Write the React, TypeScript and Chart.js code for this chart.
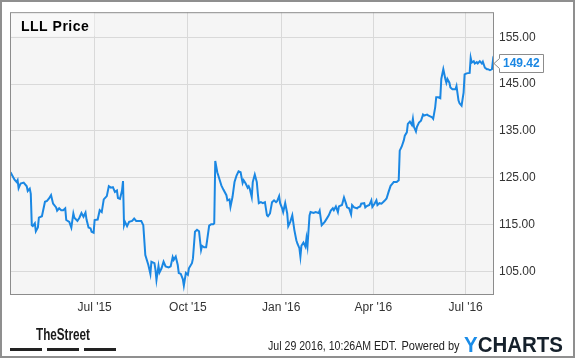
import React, { useEffect, useRef } from "react";
import { Chart, registerables } from "chart.js";

Chart.register(...registerables);

const FONT = '"Liberation Sans", Arial, Helvetica, sans-serif';

const chartTitle = "LLL Price";
// days since 2015-07-01
const days = [
  -83, -79, -77, -76, -75, -73, -70, -67, -66, -64, -63, -62, -61, -59, -58, -56, -55, -52, -49, -47,
  -45, -43, -41, -38, -37, -35, -33, -31, -29, -28, -25, -23, -21, -20, -17, -15, -13, -11, -9, -8,
  -6, -4, -3, -1, 0, 3, 5, 7, 9, 12, 14, 16, 18, 20, 22, 23, 25, 27, 28, 29,
  30, 32, 34, 37, 39, 41, 43, 46, 48, 50, 53, 55, 56, 59, 60, 61, 63, 64, 66, 68,
  70, 73, 75, 77, 78, 80, 82, 83, 85, 87, 88, 90, 92, 93, 96, 97, 99, 101, 103, 105,
  106, 108, 110, 111, 113, 115, 117, 118, 119, 121, 123, 125, 127, 130, 131, 133, 134, 136, 138, 140,
  142, 144, 146, 147, 149, 151, 152, 153, 155, 156, 158, 160, 161, 162, 164, 166, 168, 170, 171, 173,
  175, 177, 179, 180, 182, 183, 185, 186, 188, 190, 191, 193, 195, 197, 199, 200, 202, 203, 204, 206,
  208, 209, 210, 212, 213, 216, 218, 221, 222, 224, 227, 229, 231, 233, 235, 236, 238, 240, 241, 244,
  246, 248, 249, 251, 253, 254, 256, 259, 260, 262, 263, 266, 267, 268, 271, 273, 274, 276, 278, 279,
  281, 283, 285, 286, 288, 290, 292, 294, 295, 298, 300, 301, 303, 305, 306, 308, 309, 311, 313, 314,
  315, 317, 318, 320, 322, 324, 325, 328, 329, 331, 333, 334, 336, 337, 339, 341, 342, 344, 346, 347,
  348, 350, 351, 353, 356, 357, 359, 360, 362, 364, 365, 367, 370, 371, 372, 374, 375, 377, 378, 380,
  382, 383, 385, 387, 388, 390, 392, 393, 394,
];
const prices = [
  126.2, 124.6, 124.1, 124.5, 122.8, 123.8, 124.0, 123.2, 122.2, 122.7, 121.6, 114.9, 114.7, 115.3, 113.6, 114.4, 116.5, 116.8, 119.9, 120.1,
  120.6, 121.3, 119.5, 118.7, 118.0, 118.5, 118.1, 118.1, 118.5, 116.0, 115.6, 114.4, 117.4, 116.5, 115.8, 116.5, 117.5, 116.7, 117.6, 116.1,
  114.4, 114.2, 113.5, 113.3, 116.0, 116.1, 118.1, 117.7, 120.4, 121.1, 123.2, 122.9, 123.0, 122.0, 122.3, 120.7, 120.5, 122.3, 124.3, 114.9,
  115.6, 114.7, 115.6, 115.8, 116.3, 115.8, 115.8, 115.8, 114.9, 108.5, 106.4, 104.5, 107.1, 106.8, 105.4, 103.2, 106.2, 104.8, 105.7, 107.1,
  106.1, 105.9, 106.1, 108.1, 107.5, 108.2, 106.4, 104.7, 104.5, 103.4, 102.0, 104.7, 104.3, 105.7, 106.8, 107.8, 113.5, 113.9, 113.6, 109.6,
  110.5, 110.2, 110.2, 111.7, 114.8, 115.1, 115.1, 115.3, 128.6, 126.2, 124.8, 123.4, 122.5, 121.3, 120.2, 120.4, 118.8, 120.9, 124.1, 125.5,
  126.4, 126.2, 123.9, 124.5, 123.8, 122.9, 123.2, 122.7, 120.9, 124.1, 125.7, 124.1, 121.6, 119.6, 119.8, 119.6, 119.8, 117.0, 116.8, 117.4,
  119.8, 120.2, 119.8, 120.0, 121.1, 119.6, 118.5, 117.7, 119.6, 117.4, 114.7, 115.6, 117.0, 113.9, 111.7, 111.0, 110.0, 108.2, 110.5, 111.2,
  110.3, 112.1, 110.5, 117.0, 117.7, 117.5, 117.7, 117.5, 118.0, 114.9, 115.6, 116.3, 117.0, 118.0, 118.5, 118.1, 118.9, 117.7, 118.9, 119.2,
  120.8, 119.5, 118.7, 118.5, 117.2, 119.2, 118.7, 118.5, 118.7, 118.9, 119.5, 119.6, 118.7, 118.9, 119.2, 120.2, 118.8, 119.4, 120.2, 119.2,
  119.6, 119.5, 119.9, 120.1, 120.6, 122.0, 123.3, 123.8, 124.1, 124.1, 124.5, 130.8, 131.7, 133.0, 134.0, 134.7, 136.5, 137.0, 136.3, 137.6,
  135.9, 134.9, 135.9, 136.8, 137.2, 138.5, 138.3, 138.5, 138.3, 138.1, 137.9, 137.6, 140.1, 142.2, 142.2, 142.0, 146.1, 148.2, 146.1, 145.3,
  146.1, 145.3, 144.3, 143.9, 143.9, 144.6, 141.5, 140.9, 140.4, 143.2, 147.1, 147.3, 147.4, 150.6, 149.6, 149.9, 149.4, 149.7, 149.4, 149.9,
  149.4, 149.8, 148.5, 148.2, 148.2, 148.0, 148.2, 150.1, 149.42,
];

const xTickDays = [0, 92, 184, 275, 366];
const xTickLabels = ["Jul '15", "Oct '15", "Jan '16", "Apr '16", "Jul '16"];
const yTicks = [105, 115, 125, 135, 145, 155];
const lastValueLabel = "149.42";
const timestampText = "Jul 29 2016, 10:26AM EDT.";
const poweredText = "Powered by";
const brandLeft = "TheStreet";
const brandY = "Y";
const brandRest = "CHARTS";

const LINE_BLUE = "#1a87e3";

export default function App() {
  const ref = useRef<HTMLCanvasElement>(null);

  useEffect(() => {
    const canvas = ref.current!;
    const deco = {
      id: "deco",
      beforeDraw(chart: any) {
        const { ctx, chartArea: a } = chart;
        ctx.save();
        ctx.fillStyle = "#ffffff";
        ctx.fillRect(0, 0, chart.width, chart.height);
        ctx.fillStyle = "#f5f5f5";
        ctx.fillRect(a.left, a.top, a.right - a.left, a.bottom - a.top);
        ctx.restore();
      },
      afterDraw(chart: any) {
        const { ctx, chartArea: a } = chart;
        ctx.save();
        // plot frame
        ctx.strokeStyle = "#8c8c8c";
        ctx.lineWidth = 1;
        ctx.strokeRect(a.left + 0.5, a.top + 0.5, a.right - a.left - 1, a.bottom - a.top - 1);

        // title
        ctx.fillStyle = "rgba(255,255,255,0.35)";
        ctx.fillRect(a.left + 1, a.top + 1, 84, 23);
        ctx.fillStyle = "#000";
        ctx.font = `bold 14px ${FONT}`;
        (ctx as any).letterSpacing = "0.5px";
        ctx.textBaseline = "alphabetic";
        ctx.textAlign = "left";
        ctx.fillText(chartTitle, a.left + 11, a.top + 18.5);
        (ctx as any).letterSpacing = "0px";

        // last value flag
        const ys = chart.scales.y;
        const cy = Math.round(ys.getPixelForValue(prices[prices.length - 1])) + 0.5;
        const bx = a.right + 5.5;
        const bw = 44;
        const bh = 18;
        ctx.beginPath();
        ctx.moveTo(a.right, cy);
        ctx.lineTo(bx, cy - 5);
        ctx.lineTo(bx, cy - bh / 2);
        ctx.lineTo(bx + bw, cy - bh / 2);
        ctx.lineTo(bx + bw, cy + bh / 2);
        ctx.lineTo(bx, cy + bh / 2);
        ctx.lineTo(bx, cy + 5);
        ctx.closePath();
        ctx.fillStyle = "#ffffff";
        ctx.fill();
        ctx.strokeStyle = "#8c8c8c";
        ctx.stroke();
        ctx.fillStyle = LINE_BLUE;
        ctx.font = `bold 12px ${FONT}`;
        ctx.textBaseline = "middle";
        ctx.fillText(lastValueLabel, bx + 3.5, cy + 0.5);

        // footer: TheStreet
        ctx.textBaseline = "alphabetic";
        ctx.font = `bold 17px ${FONT}`;
        ctx.fillStyle = "#1a1a1a";
        ctx.fillText(brandLeft, 36, 340, 54);
        ctx.fillStyle = "#222";
        ctx.fillRect(10, 348, 32, 3);
        ctx.fillRect(47, 348, 32, 3);
        ctx.fillRect(84, 348, 32, 3);

        // timestamp
        ctx.font = `12px ${FONT}`;
        ctx.fillStyle = "#222";
        ctx.fillText(timestampText, 268, 349.5, 129);
        ctx.fillText(poweredText, 401.5, 349.5, 58);

        // YCHARTS
        ctx.font = `bold 22px ${FONT}`;
        const wY = ctx.measureText(brandY).width;
        const wR = ctx.measureText(brandRest).width;
        const k = 99 / (wY + wR);
        ctx.fillStyle = "#1a8ce8";
        ctx.fillText(brandY, 464, 352, wY * k);
        ctx.fillStyle = "#15202b";
        ctx.fillText(brandRest, 464 + wY * k, 352, wR * k);

        // outer frame
        ctx.strokeStyle = "#8f8f8f";
        ctx.lineWidth = 2;
        ctx.strokeRect(1, 1, chart.width - 2, chart.height - 2);
        ctx.restore();
      },
    };

    const chart = new Chart(canvas, {
      type: "line",
      data: {
        datasets: [
          {
            data: days.map((d, i) => ({ x: d, y: prices[i] })),
            borderColor: LINE_BLUE,
            borderWidth: 2,
            pointRadius: 0,
            tension: 0,
            fill: false,
          },
        ],
      },
      options: {
        animation: false,
        responsive: false,
        devicePixelRatio: 1,
        layout: { padding: { left: 10, top: 10, right: 0, bottom: 0 } },
        plugins: { legend: { display: false }, tooltip: { enabled: false }, title: { display: false } },
        scales: {
          x: {
            type: "linear",
            min: -83.5,
            max: 394,
            afterBuildTicks: (s: any) => {
              s.ticks = xTickDays.map((v) => ({ value: v }));
            },
            afterFit: (s: any) => {
              s.height = 63;
            },
            grid: { color: "#d9d9d9", drawTicks: false, lineWidth: 1 },
            border: { display: false },
            ticks: {
              autoSkip: false,
              maxRotation: 0,
              padding: 5,
              color: "#333",
              font: { family: FONT, size: 12 },
              callback: (_v: any, i: number) => xTickLabels[i],
            },
          },
          y: {
            position: "right",
            min: 100,
            max: 160.35,
            afterBuildTicks: (s: any) => {
              s.ticks = yTicks.map((v) => ({ value: v }));
            },
            afterFit: (s: any) => {
              s.width = 81;
            },
            grid: { color: "#d9d9d9", drawTicks: false, lineWidth: 1 },
            border: { display: false },
            ticks: {
              padding: 5,
              color: "#333",
              font: { family: FONT, size: 12 },
              callback: (v: any) => Number(v).toFixed(2),
            },
          },
        },
      },
      plugins: [deco],
    } as any);

    return () => chart.destroy();
  }, []);

  return (
    <div style={{ position: "fixed", left: 0, top: 0, width: 575, height: 358, background: "#fff" }}>
      <canvas ref={ref} width={575} height={358} style={{ display: "block", width: 575, height: 358 }} />
    </div>
  );
}
